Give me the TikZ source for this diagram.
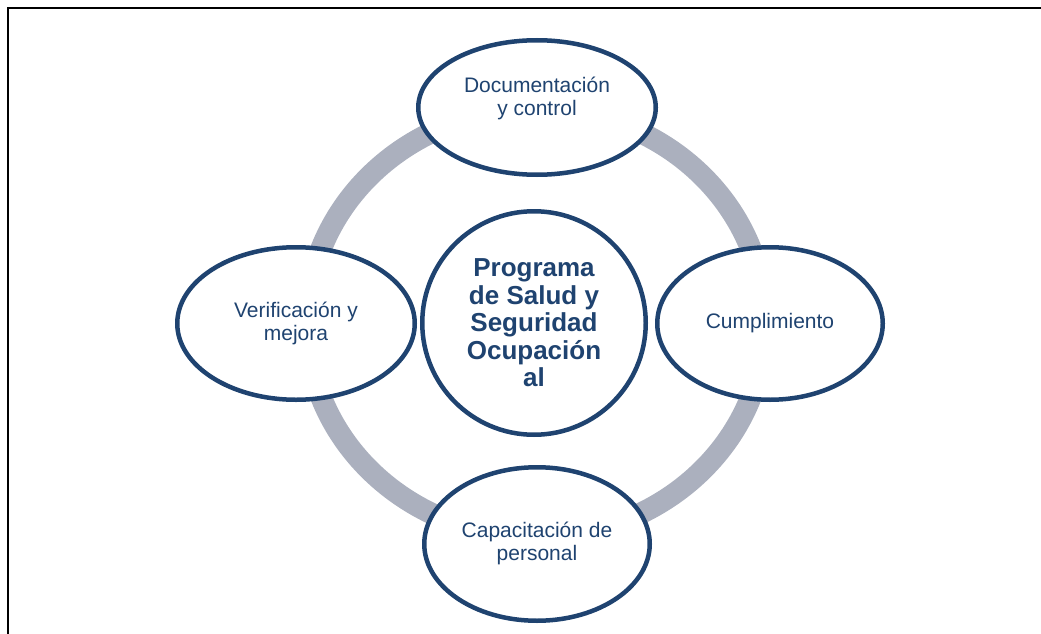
\documentclass[tikz,border=0pt]{standalone}
\usepackage{fontspec}
\setmainfont{Liberation Sans}
\usetikzlibrary{shapes.geometric}
\definecolor{ringgray}{HTML}{ABB0BE}
\definecolor{navy}{HTML}{1F4370}
\begin{document}
\begin{tikzpicture}[x=1pt,y=-1pt,
  stage/.style={ellipse, draw=navy, line width=4.5pt, fill=white, inner sep=0pt},
  lbl/.style={text=navy, align=center, inner sep=0pt, font=\fontsize{21}{23.5}\selectfont},
  hub/.style={circle, draw=navy, line width=4.5pt, fill=white, inner sep=0pt, minimum size=223.5pt,
    text=navy, align=center, font=\fontsize{26}{27.5}\selectfont\bfseries}]
\useasboundingbox (0,0) rectangle (1041,634);
% frame
\coordinate (fbl) at (7.5,634);
\coordinate (ftl) at (7.5,8.5);
\coordinate (ftr) at (1041,8.5);
\draw[black, line width=2pt] (fbl) -- (ftl) -- (ftr);
% ring
\node[ellipse, draw=ringgray, line width=21.5pt, minimum width=458pt, minimum height=428pt, inner sep=0pt] (ring) at (536,323) {};
% stages
\node[stage, minimum width=237.5pt, minimum height=134.5pt] (top) at (537,107.5) {};
\node[lbl] (toptxt) at (537,98.5) {Documentación\\y control};
\node[stage, minimum width=225.5pt, minimum height=152.5pt] (right) at (770,323.5) {};
\node[lbl] (righttxt) at (770,323.5) {Cumplimiento};
\node[stage, minimum width=225.5pt, minimum height=153.5pt] (bottom) at (537,544) {};
\node[lbl] (bottomtxt) at (537,543.5) {Capacitación de\\personal};
\node[stage, minimum width=237.5pt, minimum height=152.5pt] (left) at (296,323.5) {};
\node[lbl] (lefttxt) at (296,323.5) {Verificación y\\mejora};
% hub
\node[hub] (hub) at (534,323) {Programa\\de Salud y\\Seguridad\\Ocupación\\al};
\end{tikzpicture}
\end{document}
